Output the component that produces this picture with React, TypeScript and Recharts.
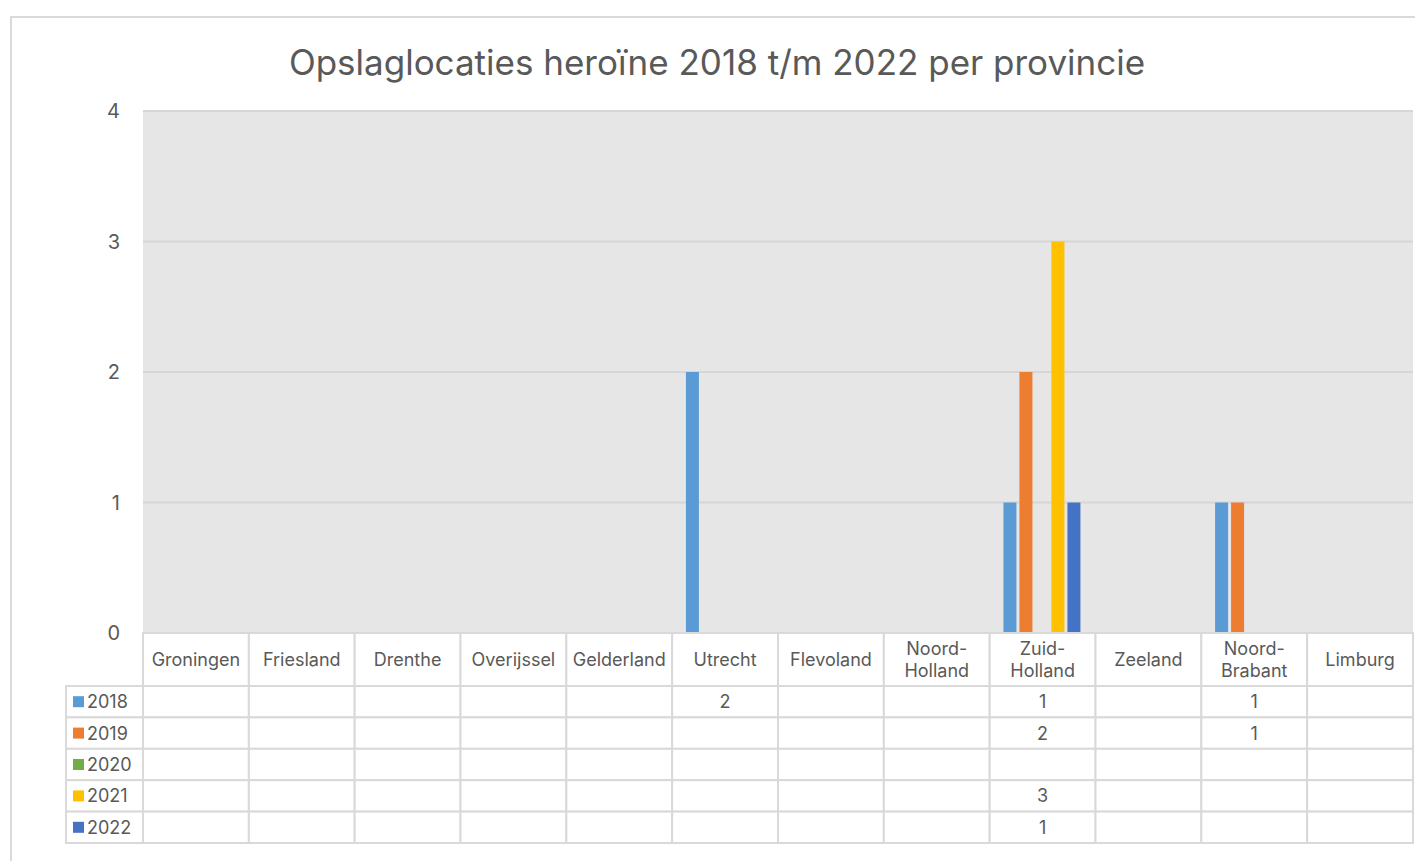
import React from "react";
import { BarChart, Bar, XAxis, YAxis, CartesianGrid } from "recharts";

const provinces = [
  "Groningen",
  "Friesland",
  "Drenthe",
  "Overijssel",
  "Gelderland",
  "Utrecht",
  "Flevoland",
  "Noord-Holland",
  "Zuid-Holland",
  "Zeeland",
  "Noord-Brabant",
  "Limburg",
];

const y2018 = [null, null, null, null, null, 2, null, null, 1, null, 1, null];
const y2019 = [null, null, null, null, null, null, null, null, 2, null, 1, null];
const y2020 = [null, null, null, null, null, null, null, null, null, null, null, null];
const y2021 = [null, null, null, null, null, null, null, null, 3, null, null, null];
const y2022 = [null, null, null, null, null, null, null, null, 1, null, null, null];

const yTicks = [0, 1, 2, 3, 4];

const series = [
  { key: "2018", values: y2018, color: "#5b9bd5" },
  { key: "2019", values: y2019, color: "#ed7d31" },
  { key: "2020", values: y2020, color: "#70ad47" },
  { key: "2021", values: y2021, color: "#ffc000" },
  { key: "2022", values: y2022, color: "#4472c4" },
];

const data = provinces.map((name, i) => {
  const row: any = { name };
  series.forEach((s) => {
    row[s.key] = s.values[i];
  });
  return row;
});

const W = 1415;
const H = 861;
const margin = { top: 111, right: 2, left: 0, bottom: 18 };
const Y_W = 143;
const HEADER_H = 53;
const ROW_H = 31.4;
const LEGEND_W = 77;
const FONT = "Inter, 'Open Sans', sans-serif";
const TXT = "#595959";
const LINE = "#d9d9d9";
const colW = (W - margin.left - margin.right - Y_W) / provinces.length;

const splitName = (name: string) => {
  const p = name.indexOf("-");
  return p > 0 ? [name.slice(0, p + 1), name.slice(p + 1)] : [name];
};

const TableTick = (props: any) => {
  const { x, y, payload } = props;
  const i = payload.index;
  const lines = splitName(payload.value);
  const left = x - colW / 2;
  return (
    <g>
      <rect x={left} y={y} width={colW} height={HEADER_H} fill="#fff" stroke={LINE} strokeWidth={2} />
      {lines.map((l, k) => (
        <text
          key={k}
          x={x}
          y={y + HEADER_H / 2 + (k - (lines.length - 1) / 2) * 22}
          textAnchor="middle"
          dominantBaseline="central"
          fontSize={18}
          fill={TXT}
          fontFamily={FONT}
        >
          {l}
        </text>
      ))}
      {series.map((s, ri) => {
        const ry = y + HEADER_H + ri * ROW_H;
        const v = s.values[i];
        return (
          <g key={s.key}>
            <rect x={left} y={ry} width={colW} height={ROW_H} fill="#fff" stroke={LINE} strokeWidth={2} />
            {v != null && (
              <text
                x={x}
                y={ry + ROW_H / 2}
                textAnchor="middle"
                dominantBaseline="central"
                fontSize={18}
                fill={TXT}
                fontFamily={FONT}
              >
                {v}
              </text>
            )}
            {i === 0 && (
              <g>
                <rect x={left - LEGEND_W} y={ry} width={LEGEND_W} height={ROW_H} fill="#fff" stroke={LINE} strokeWidth={2} />
                <rect x={left - LEGEND_W + 7} y={ry + ROW_H / 2 - 5.5} width={11} height={11} fill={s.color} />
                <text
                  x={left - LEGEND_W + 21}
                  y={ry + ROW_H / 2}
                  dominantBaseline="central"
                  fontSize={18}
                  fill={TXT}
                  fontFamily={FONT}
                >
                  {s.key}
                </text>
              </g>
            )}
          </g>
        );
      })}
    </g>
  );
};

export default function App() {
  return (
    <div style={{ position: "absolute", left: 0, top: 0, width: W, height: H, overflow: "hidden", background: "#fff" }}>
      <div
        style={{
          position: "absolute",
          left: 10,
          top: 16,
          width: W,
          height: H,
          borderTop: `2px solid ${LINE}`,
          borderLeft: `2px solid ${LINE}`,
        }}
      />
      <div
        style={{
          position: "absolute",
          left: 0,
          top: 40,
          width: 1434,
          textAlign: "center",
          fontFamily: FONT,
          fontSize: 35,
          color: TXT,
          lineHeight: "44px",
        }}
      >
        Opslaglocaties heroïne 2018 t/m 2022 per provincie
      </div>
      <div style={{ position: "absolute", left: 0, top: 0 }}>
        <BarChart width={W} height={H} data={data} margin={margin} barCategoryGap="13%" barGap={3}>
          <CartesianGrid vertical={false} fill="#e6e6e6" stroke="#d6d6d6" strokeWidth={2} />
          <XAxis
            dataKey="name"
            height={210}
            axisLine={false}
            tickLine={false}
            tickSize={0}
            tickMargin={0}
            interval={0}
            tick={<TableTick />}
          />
          <YAxis
            width={Y_W}
            domain={[0, 4]}
            ticks={yTicks}
            axisLine={false}
            tickLine={false}
            tickSize={0}
            tickMargin={23}
            tick={{ fontSize: 20, fill: TXT, fontFamily: FONT }}
          />
          {series.map((s) => (
            <Bar key={s.key} dataKey={s.key} fill={s.color} isAnimationActive={false} />
          ))}
        </BarChart>
      </div>
    </div>
  );
}
